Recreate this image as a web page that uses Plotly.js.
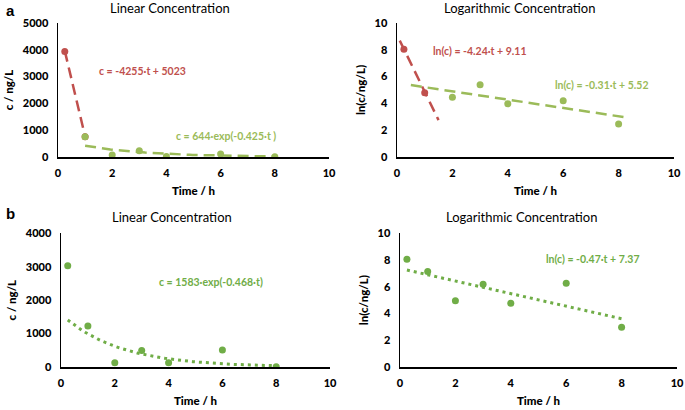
<!DOCTYPE html>
<html>
<head>
<meta charset="utf-8">
<script src="https://cdn.plot.ly/plotly-3.0.1.min.js"></script>
<style>html,body{margin:0;padding:0;background:#fff}#chart{width:685px;height:410px}</style>
</head>
<body>
<div id="chart"></div>
<script>
// ---- data ----
// panel a, linear concentration (ng/L)
var aLinRedT = [0.25, 1];
var aLinRedC = [3940, 760];
var aLinGreenT = [1, 2, 3, 4, 6, 8];
var aLinGreenC = [760, 75, 236, 15, 112, 5];
// panel a, log concentration
var aLogRedT = [0.25, 1];
var aLogRedC = [8.04, 4.8];
var aLogGreenT = [2, 3, 4, 6, 8];
var aLogGreenC = [4.45, 5.4, 3.98, 4.2, 2.46];
// panel b
var bT = [0.25, 1, 2, 3, 4, 6, 8];
var bLinC = [3030, 1227, 130, 490, 130, 510, 5];
var bLogC = [8.05, 7.15, 4.96, 6.18, 4.76, 6.26, 2.97];

// trendline coefficients as printed on the chart, and their drawn t-spans
var aLinRedFit = [-4255, 5023];      // linear: c = m*t + b
var aLinRedSpan = [0.25, 1];
var aLinGreenFit = [644, -0.425];    // exp: c = A*exp(k*t)
var aLinGreenSpan = [1, 8];
var aLogRedFit = [-4.24, 9.11];
var aLogRedSpan = [0.1, 1.5];
var aLogGreenFit = [-0.31, 5.52];
var aLogGreenSpan = [0.5, 8.3];
var bLinFit = [1583, -0.468];
var bLinSpan = [0.25, 8];
var bLogFit = [-0.47, 7.37];
var bLogSpan = [0.25, 8];

var RED = '#C0504D', GREEN_A = '#9BBB59', GREEN_B = '#70AD47';
var FONT = 'Lato, "Open Sans", sans-serif';

function linLine(fit, span) {
  return {x: [span[0], span[1]], y: [fit[0]*span[0] + fit[1], fit[0]*span[1] + fit[1]]};
}
function expLine(fit, span) {
  var xs = [], ys = [], n = 60;
  for (var i = 0; i <= n; i++) {
    var t = span[0] + (span[1] - span[0]) * i / n;
    xs.push(t); ys.push(fit[0] * Math.exp(fit[1] * t));
  }
  return {x: xs, y: ys};
}
function pts(x, y, color, xa, ya) {
  return {x: x, y: y, type: 'scatter', mode: 'markers', xaxis: xa, yaxis: ya,
    marker: {color: color, size: 7}, hoverinfo: 'skip', showlegend: false};
}
function ln(l, color, dash, w, xa, ya) {
  return {x: l.x, y: l.y, type: 'scatter', mode: 'lines', xaxis: xa, yaxis: ya,
    line: {color: color, dash: dash, width: w}, hoverinfo: 'skip', showlegend: false};
}

var DASH = '11px,6px', DOT = '3px,4px';
var traces = [
  ln(linLine(aLinRedFit, aLinRedSpan), RED, DASH, 2.5, 'x', 'y'),
  ln(expLine(aLinGreenFit, aLinGreenSpan), GREEN_A, DASH, 2.5, 'x', 'y'),
  pts(aLinRedT, aLinRedC, RED, 'x', 'y'),
  pts(aLinGreenT, aLinGreenC, GREEN_A, 'x', 'y'),

  ln(linLine(aLogRedFit, aLogRedSpan), RED, DASH, 2.5, 'x2', 'y2'),
  ln(linLine(aLogGreenFit, aLogGreenSpan), GREEN_A, DASH, 2.5, 'x2', 'y2'),
  pts(aLogRedT, aLogRedC, RED, 'x2', 'y2'),
  pts(aLogGreenT, aLogGreenC, GREEN_A, 'x2', 'y2'),

  ln(expLine(bLinFit, bLinSpan), GREEN_B, DOT, 3, 'x3', 'y3'),
  pts(bT, bLinC, GREEN_B, 'x3', 'y3'),

  ln(linLine(bLogFit, bLogSpan), GREEN_B, DOT, 3, 'x4', 'y4'),
  pts(bT, bLogC, GREEN_B, 'x4', 'y4')
];

function W(px) { return px / 685; }
function H(py) { return 1 - py / 410; }

var tickFont = {family: FONT, size: 11, color: '#000', weight: 900};
var axTitleFont = {family: FONT, size: 11.5, color: '#000', weight: 900};
function xax(dom, anchor) {
  return {domain: dom, anchor: anchor, range: [0, 10], dtick: 2, tick0: 0,
    showgrid: false, zeroline: false, showline: true, linecolor: '#000', linewidth: 1.5,
    ticks: '', tickfont: tickFont, fixedrange: true, ticklabelstandoff: 5,
    title: {text: 'Time / h', font: axTitleFont, standoff: 9}};
}
function yax(dom, anchor, max, dt, title) {
  return {domain: dom, anchor: anchor, range: [0, max], dtick: dt, tick0: 0,
    showgrid: false, zeroline: false, showline: true, linecolor: '#000', linewidth: 1.5,
    ticks: '', tickfont: tickFont, fixedrange: true, ticklabelstandoff: 6,
    title: {text: title, font: axTitleFont, standoff: 6}};
}

var yTopDom = [H(157), H(23)];
var yBotDom = [H(367), H(233.3)];
var eqFont = function (c) { return {family: FONT, size: 10.5, color: c, weight: 'bold'}; };
var titleFont = {family: FONT, size: 13, color: '#000'};
var layout = {
  width: 685, height: 410,
  margin: {l: 0, r: 0, t: 0, b: 0},
  paper_bgcolor: '#fff', plot_bgcolor: '#fff',
  font: {family: FONT, color: '#000'},
  xaxis: xax([W(58), W(329)], 'y'),
  yaxis: yax(yTopDom, 'x', 5000, 1000, 'c / ng/L'),
  xaxis2: xax([W(397), W(674)], 'y2'),
  yaxis2: yax(yTopDom, 'x2', 10, 2, 'ln(c/ng/L)'),
  xaxis3: xax([W(61), W(330)], 'y3'),
  yaxis3: yax(yBotDom, 'x3', 4000, 1000, 'c / ng/L'),
  xaxis4: xax([W(400), W(677)], 'y4'),
  yaxis4: yax(yBotDom, 'x4', 10, 2, 'ln(c/ng/L)'),
  annotations: [
    {text: '<b>a</b>', x: W(4), y: H(10), xref: 'paper', yref: 'paper', xanchor: 'left', yanchor: 'middle', showarrow: false, font: {family: 'Liberation Sans, Arial, sans-serif', size: 15, color: '#000'}},
    {text: '<b>b</b>', x: W(4), y: H(213), xref: 'paper', yref: 'paper', xanchor: 'left', yanchor: 'middle', showarrow: false, font: {family: 'Liberation Sans, Arial, sans-serif', size: 15, color: '#000'}},
    {text: 'Linear Concentration', x: W(170), y: H(8), xref: 'paper', yref: 'paper', xanchor: 'center', yanchor: 'middle', showarrow: false, font: titleFont},
    {text: 'Logarithmic Concentration', x: W(519), y: H(8), xref: 'paper', yref: 'paper', xanchor: 'center', yanchor: 'middle', showarrow: false, font: titleFont},
    {text: 'Linear Concentration', x: W(172), y: H(217), xref: 'paper', yref: 'paper', xanchor: 'center', yanchor: 'middle', showarrow: false, font: titleFont},
    {text: 'Logarithmic Concentration', x: W(521), y: H(217), xref: 'paper', yref: 'paper', xanchor: 'center', yanchor: 'middle', showarrow: false, font: titleFont},
    {text: 'c = -4255·t + 5023', x: W(97), y: H(71), xref: 'paper', yref: 'paper', xanchor: 'left', yanchor: 'middle', showarrow: false, font: eqFont(RED)},
    {text: 'c = 644·exp(-0.425·t )', x: W(174), y: H(136), xref: 'paper', yref: 'paper', xanchor: 'left', yanchor: 'middle', showarrow: false, font: eqFont(GREEN_A)},
    {text: 'ln(c) = -4.24·t + 9.11', x: W(431), y: H(51), xref: 'paper', yref: 'paper', xanchor: 'left', yanchor: 'middle', showarrow: false, font: eqFont(RED)},
    {text: 'ln(c) = -0.31·t + 5.52', x: W(553), y: H(85), xref: 'paper', yref: 'paper', xanchor: 'left', yanchor: 'middle', showarrow: false, font: eqFont(GREEN_A)},
    {text: 'c = 1583·exp(-0.468·t)', x: W(157), y: H(282), xref: 'paper', yref: 'paper', xanchor: 'left', yanchor: 'middle', showarrow: false, font: eqFont(GREEN_B)},
    {text: 'ln(c) = -0.47·t + 7.37', x: W(544), y: H(259), xref: 'paper', yref: 'paper', xanchor: 'left', yanchor: 'middle', showarrow: false, font: eqFont(GREEN_B)}
  ]
};

Plotly.newPlot('chart', traces, layout, {staticPlot: true, displayModeBar: false});
</script>
</body>
</html>
